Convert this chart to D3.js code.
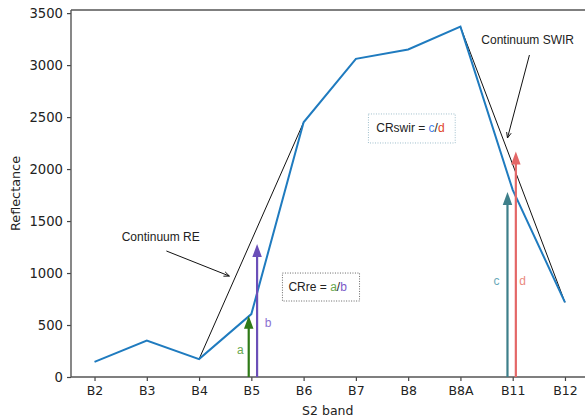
<!DOCTYPE html>
<html>
<head>
<meta charset="utf-8">
<script src="https://cdn.jsdelivr.net/npm/d3@7"></script>
<style>
  html, body { margin: 0; padding: 0; background: #fff; }
  svg { display: block; }
</style>
</head>
<body>
<svg id="chart" width="585" height="418"></svg>
<script>
// ---- data ----
const bands = ["B2", "B3", "B4", "B5", "B6", "B7", "B8", "B8A", "B11", "B12"];
const reflectance = [145, 350, 172, 605, 2450, 3060, 3150, 3370, 1800, 718];
const continuumRE = [["B4", 172], ["B6", 2450]];
const continuumSWIR = [["B8A", 3370], ["B12", 718]];
const yTicks = [0, 500, 1000, 1500, 2000, 2500, 3000, 3500];
// arrows: band, offset (in band steps), top value
const arrowNames = ["a", "b", "c", "d"];
const arrowBands = ["B5", "B5", "B11", "B11"];
const arrowOffsets = [-0.05, 0.11, -0.1, 0.06];
const arrowTops = [590, 1280, 1780, 2170];

// ---- styles / layout ----
const arrowColors = ["#2f7a17", "#6b4fb8", "#3e7f8a", "#e46767"];
const labelColors = ["#6aa84f", "#8a70d2", "#6aa9b9", "#ea8a80"];

const svg = d3.select("#chart");
const M = { left: 71, right: 588.5, top: 10, bottom: 377 };

const x = d3.scalePoint().domain(bands).range([M.left, M.right]).padding(0.45);
const step = x.step();
const y = d3.scaleLinear().domain([0, 3530]).range([M.bottom, M.top]);

const tickFont = "DejaVu Sans, sans-serif";
const annFont = "Liberation Sans, Arial, sans-serif";

// axes
const xAxis = d3.axisBottom(x).tickSize(4).tickPadding(5);
const yAxis = d3.axisLeft(y).tickValues(yTicks).tickFormat(d3.format("d")).tickSize(4).tickPadding(4);

const gx = svg.append("g").attr("transform", `translate(0,${M.bottom})`).call(xAxis);
const gy = svg.append("g").attr("transform", `translate(${M.left},0)`).call(yAxis);
[gx, gy].forEach(g => {
  g.selectAll("text").attr("font-family", tickFont).attr("font-size", 12.5).attr("fill", "#222");
  g.selectAll("line").attr("stroke", "#444").attr("stroke-width", 1.2);
  g.select(".domain").remove();
});
gy.selectAll("text").attr("font-size", 13.2);
// spines
svg.append("line").attr("x1", M.left).attr("x2", M.left).attr("y1", M.top).attr("y2", M.bottom)
  .attr("stroke", "#555").attr("stroke-width", 1.4);
svg.append("line").attr("x1", M.left).attr("x2", 585).attr("y1", M.bottom).attr("y2", M.bottom)
  .attr("stroke", "#555").attr("stroke-width", 1.4);
svg.append("line").attr("x1", M.left).attr("x2", 585).attr("y1", M.top).attr("y2", M.top)
  .attr("stroke", "#555").attr("stroke-width", 1.4);

// axis labels
svg.append("text").attr("x", (M.left + M.right) / 2 - 2).attr("y", 415)
  .attr("text-anchor", "middle").attr("font-family", tickFont).attr("font-size", 12.5)
  .attr("fill", "#222").text("S2 band");
svg.append("text").attr("transform", `translate(20,${(M.top + M.bottom) / 2}) rotate(-90)`)
  .attr("text-anchor", "middle").attr("font-family", tickFont).attr("font-size", 12.8)
  .attr("fill", "#222").text("Reflectance");

// continuum lines
const lineC = d3.line().x(d => x(d[0])).y(d => y(d[1]));
[continuumRE, continuumSWIR].forEach(c => {
  svg.append("path").attr("d", lineC(c)).attr("fill", "none")
    .attr("stroke", "#111").attr("stroke-width", 1);
});

// spectrum
const line = d3.line().x((d, i) => x(bands[i])).y(d => y(d));
svg.append("path").attr("d", line(reflectance)).attr("fill", "none")
  .attr("stroke", "#1f7bbf").attr("stroke-width", 2);

// vertical arrows
function arrowPath(cx, yb, yt, w, hw, hl) {
  const ys = yt + hl;
  return `M${cx - w / 2},${yb} L${cx - w / 2},${ys} L${cx - hw / 2},${ys} L${cx},${yt} ` +
         `L${cx + hw / 2},${ys} L${cx + w / 2},${ys} L${cx + w / 2},${yb} Z`;
}
arrowNames.forEach((n, i) => {
  const cx = x(arrowBands[i]) + arrowOffsets[i] * step;
  svg.append("path").attr("d", arrowPath(cx, y(0), y(arrowTops[i]), 2.2, 9.5, 13))
    .attr("fill", arrowColors[i]);
});

// arrow letter labels
const letterPos = [[-0.21, 221], [0.32, 481], [-0.31, 885], [0.19, 885]];
arrowNames.forEach((n, i) => {
  svg.append("text").attr("x", x(arrowBands[i]) + letterPos[i][0] * step).attr("y", y(letterPos[i][1]))
    .attr("text-anchor", "middle").attr("font-family", annFont).attr("font-size", 12)
    .attr("fill", labelColors[i]).text(n);
});

// annotation text + pointer arrows
function pointer(x1, y1, x2, y2) {
  svg.append("line").attr("x1", x1).attr("y1", y1).attr("x2", x2).attr("y2", y2)
    .attr("stroke", "#111").attr("stroke-width", 1);
  const a = Math.atan2(y2 - y1, x2 - x1), L = 6, s = 0.4;
  const p1 = [x2 - L * Math.cos(a - s), y2 - L * Math.sin(a - s)];
  const p2 = [x2 - L * Math.cos(a + s), y2 - L * Math.sin(a + s)];
  svg.append("path").attr("d", `M${p1} L${x2},${y2} L${p2}`).attr("fill", "none")
    .attr("stroke", "#111").attr("stroke-width", 1);
}
const bx = i => x(bands[0]) + i * step;
svg.append("text").attr("x", bx(0.52)).attr("y", y(1308)).attr("font-family", annFont)
  .attr("font-size", 12).attr("fill", "#222").text("Continuum RE");
pointer(bx(1.375), y(1212), bx(2.58), y(971));
svg.append("text").attr("x", bx(7.40)).attr("y", y(3203)).attr("font-family", annFont)
  .attr("font-size", 12).attr("fill", "#222").text("Continuum SWIR");
pointer(bx(8.32), y(3097), bx(7.90), y(2299));

// formula boxes
function box(i0, i1, v0, v1, stroke) {
  svg.append("rect").attr("x", bx(i0)).attr("y", y(v0)).attr("width", bx(i1) - bx(i0))
    .attr("height", y(v1) - y(v0)).attr("fill", "#fff").attr("stroke", stroke)
    .attr("stroke-width", 1).attr("stroke-dasharray", "1,1.5");
}
box(5.24, 6.90, 2530, 2251, "#9dbdcb");
const t1 = svg.append("text").attr("x", bx(5.39)).attr("y", y(2356)).attr("font-family", annFont)
  .attr("font-size", 12).attr("fill", "#222");
t1.append("tspan").text("CRswir = ");
t1.append("tspan").attr("fill", "#4a86e8").text("c");
t1.append("tspan").text("/");
t1.append("tspan").attr("fill", "#e0452a").text("d");

box(3.595, 5.07, 1000, 731, "#666");
const t2 = svg.append("text").attr("x", bx(3.71)).attr("y", y(827)).attr("font-family", annFont)
  .attr("font-size", 12).attr("fill", "#222");
t2.append("tspan").text("CRre = ");
t2.append("tspan").attr("fill", "#6aa84f").text("a");
t2.append("tspan").text("/");
t2.append("tspan").attr("fill", "#7b5cc9").text("b");
</script>
</body>
</html>
